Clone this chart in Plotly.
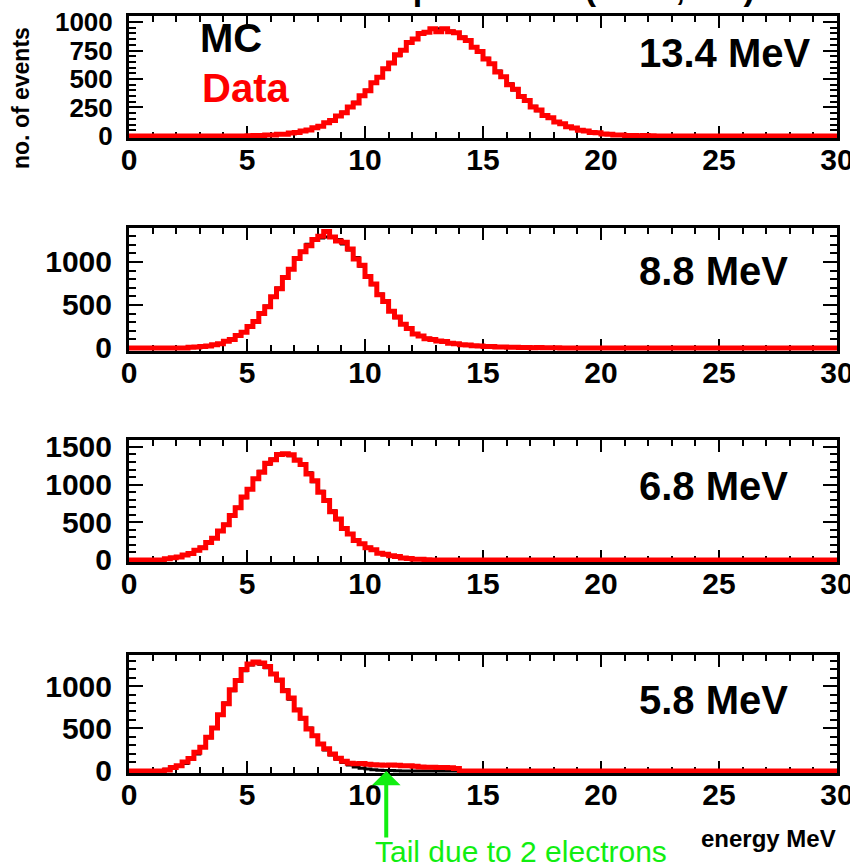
import numpy as np
import plotly.graph_objects as go

BIN = 0.25
X_MAX = 30

energy_labels = ["13.4 MeV", "8.8 MeV", "6.8 MeV", "5.8 MeV"]
x_ticks = [0, 5, 10, 15, 20, 25, 30]
y_ticks = [[0, 250, 500, 750, 1000], [0, 500, 1000], [0, 500, 1000, 1500], [0, 500, 1000]]
y_minor = [50, 100, 100, 100]
y_ranges = [[-18, 1053], [-35, 1395], [-27, 1592], [-24, 1365]]

# first bin edge (MeV) of each listed histogram; bins of 0.25 MeV, zero elsewhere
starts = [5.0, 2.5, 1.5, 1.5]

mc_134 = [2, 3, 5, 7, 9, 13, 17, 23, 31, 41, 54, 69, 88, 111, 139, 170, 207, 249, 295, 347, 401, 460,
          520, 583, 644, 704, 760, 811, 855, 891, 918, 934, 940, 935, 921, 899, 868, 830, 785, 736, 683,
          627, 570, 514, 458, 403, 353, 305, 261, 222, 186, 155, 127, 104, 84, 67, 53, 41, 32, 25, 19,
          14, 10, 8, 6, 4, 3, 2, 2]
data_134 = [2, 4, 4, 8, 8, 14, 16, 25, 30, 44, 52, 72, 85, 115, 136, 175, 203, 255, 290, 352, 396, 468,
            515, 590, 640, 712, 752, 820, 850, 900, 910, 940, 915, 940, 915, 905, 862, 838, 778, 742, 676,
            634, 562, 520, 450, 410, 346, 312, 255, 228, 180, 160, 122, 108, 80, 70, 50, 44, 30, 27, 18,
            16, 9, 9, 5, 5, 2, 3, 1]

mc_88 = [7, 11, 16, 24, 36, 52, 74, 103, 140, 187, 244, 314, 395, 487, 589, 697, 812, 923, 1029, 1125,
         1207, 1250, 1280, 1290, 1285, 1260, 1210, 1140, 1051, 950, 844, 736, 629, 530, 437, 353, 282,
         221, 169, 135, 112, 95, 85, 70, 58, 48, 40, 33, 27, 22, 18, 15, 13, 11, 9, 8, 7, 6, 5, 4, 4, 3, 2]
data_88 = [8, 12, 18, 22, 38, 50, 78, 100, 145, 182, 250, 308, 402, 480, 595, 690, 820, 915, 1040, 1118,
           1190, 1262, 1300, 1355, 1290, 1245, 1230, 1150, 1035, 962, 832, 745, 618, 540, 428, 360, 275,
           228, 162, 140, 108, 98, 82, 74, 55, 50, 38, 35, 25, 24, 16, 17, 12, 12, 8, 9, 6, 7, 4, 5, 3, 4, 2]

mc_68 = [18, 28, 42, 61, 88, 123, 168, 225, 295, 378, 475, 583, 701, 824, 950, 1069, 1178, 1270, 1341,
         1385, 1400, 1383, 1335, 1258, 1157, 1039, 911, 782, 653, 534, 426, 340, 265, 210, 170, 130, 95,
         70, 60, 42, 28, 18, 12, 8, 4]
data_68 = [15, 30, 40, 65, 85, 128, 162, 232, 288, 385, 468, 590, 692, 835, 940, 1078, 1165, 1285, 1330,
           1400, 1410, 1395, 1322, 1268, 1140, 1050, 900, 790, 640, 545, 418, 345, 258, 215, 162, 135, 90,
           75, 55, 45, 25, 20, 10, 9, 3]

mc_58 = [20, 34, 56, 89, 136, 200, 284, 390, 513, 653, 800, 944, 1075, 1180, 1247, 1270, 1256, 1214, 1147,
         1060, 957, 845, 727, 611, 506, 408, 322, 248, 187, 137, 99, 70, 48, 33, 22, 14, 9, 6, 4, 2]
data_58 = [12, 40, 62, 105, 148, 220, 280, 398, 505, 662, 792, 955, 1065, 1195, 1260, 1282, 1270, 1230,
           1140, 1072, 945, 860, 718, 620, 495, 415, 318, 262, 200, 150, 115, 92, 85, 88, 80, 74, 70, 68,
           71, 66, 62, 60, 54, 48, 45, 44, 42, 40, 38, 30]

mc_sets = [mc_134, mc_88, mc_68, mc_58]
data_sets = [data_134, data_88, data_68, data_58]

# ---- layout geometry (pixels) ----
W, H = 850, 868
X_L, X_R = 129, 837
frames = [(16, 138), (228, 351), (440, 562), (655, 773)]
label_y = [53, 271, 486, 700]
ytick_size = [26, 30, 30, 30]

FONT = "Liberation Sans"


def full_hist(start, counts):
    n = int(round(X_MAX / BIN))
    h = np.zeros(n)
    i0 = int(round(start / BIN))
    h[i0:i0 + len(counts)] = counts
    x = np.arange(n + 1) * BIN
    y = np.append(h, h[-1])
    return x, y


def py(pix):
    return 1 - pix / H


fig = go.Figure()
layout = dict(
    width=W, height=H,
    margin=dict(l=0, r=0, t=0, b=0),
    paper_bgcolor="white", plot_bgcolor="white",
    showlegend=False,
    font=dict(family=FONT, color="black"),
)

for i in range(4):
    k = "" if i == 0 else str(i + 1)
    xr, yr = "x" + k, "y" + k
    xm, ym = full_hist(starts[i], mc_sets[i])
    xd, yd = full_hist(starts[i], data_sets[i])
    fig.add_trace(go.Scatter(x=xm, y=ym, mode="lines", line=dict(color="black", width=3, shape="hv"),
                             xaxis=xr, yaxis=yr, hoverinfo="skip"))
    fig.add_trace(go.Scatter(x=xd, y=yd, mode="lines", line=dict(color="#ff0000", width=5, shape="hv"),
                             xaxis=xr, yaxis=yr, hoverinfo="skip"))
    top, bot = frames[i]
    layout["xaxis" + k] = dict(
        domain=[X_L / W, X_R / W], anchor=yr, range=[0, X_MAX],
        tickvals=x_ticks, ticks="inside", ticklen=12, tickwidth=2, tickcolor="black",
        minor=dict(dtick=1, ticks="inside", ticklen=6, tickwidth=2, tickcolor="black"),
        showline=True, linewidth=3, linecolor="black", mirror="allticks",
        showgrid=False, zeroline=False, layer="below traces",
        tickfont=dict(family=FONT, size=30, color="black", weight="bold"),
        ticklabelstandoff=-7, ticklabeloverflow="allow", automargin=False, fixedrange=True,
    )
    layout["yaxis" + k] = dict(
        domain=[py(bot), py(top)], anchor=xr, range=y_ranges[i],
        tickvals=y_ticks[i], ticks="inside", ticklen=14, tickwidth=2, tickcolor="black",
        minor=dict(dtick=y_minor[i], ticks="inside", ticklen=7, tickwidth=2, tickcolor="black"),
        showline=True, linewidth=3, linecolor="black", mirror="allticks",
        showgrid=False, zeroline=False, layer="below traces",
        tickfont=dict(family=FONT, size=ytick_size[i], color="black", weight="bold"),
        ticklabelstandoff=8, ticklabeloverflow="allow", automargin=False, fixedrange=True,
    )

annotations = []
for i in range(4):
    annotations.append(dict(text=energy_labels[i], xref="paper", yref="paper", x=637 / W, y=py(label_y[i]),
                            xanchor="left", yanchor="middle", showarrow=False,
                            font=dict(family=FONT, size=40, color="black", weight="bold")))

annotations += [
    dict(text="MC", xref="paper", yref="paper", x=198 / W, y=py(38), xanchor="left", yanchor="middle",
         showarrow=False, font=dict(family=FONT, size=40, color="black", weight="bold")),
    dict(text="Data", xref="paper", yref="paper", x=200 / W, y=py(88), xanchor="left", yanchor="middle",
         showarrow=False, font=dict(family=FONT, size=40, color="#ff0000", weight="bold")),
    dict(text="no. of events", xref="paper", yref="paper", x=21 / W, y=py(98), xanchor="center",
         yanchor="middle", textangle=-90, showarrow=False,
         font=dict(family=FONT, size=23, color="black", weight="bold")),
    dict(text="energy MeV", xref="paper", yref="paper", x=838 / W, y=py(838), xanchor="right",
         yanchor="middle", showarrow=False, font=dict(family=FONT, size=24, color="black", weight="bold")),
    dict(text="Tail due to 2 electrons", xref="paper", yref="paper", x=521 / W, y=py(851), xanchor="center",
         yanchor="middle", showarrow=False, font=dict(family=FONT, size=30, color="#11ee11")),
    dict(text="", x=10.9, y=0, xref="x4", yref="y4", ax=0, ay=68, showarrow=True, arrowhead=1,
         arrowsize=1.2, arrowwidth=4, arrowcolor="#11ee11", standoff=0),
    dict(text="LINAC vs MC comparison at (-12m, 0m)", xref="paper", yref="paper", x=118 / W, y=1,
         yshift=12, xanchor="left", yanchor="middle", showarrow=False,
         font=dict(family=FONT, size=34, color="black", weight="bold")),
]
layout["annotations"] = annotations

fig.update_layout(**layout)
fig.write_html("out.html")
